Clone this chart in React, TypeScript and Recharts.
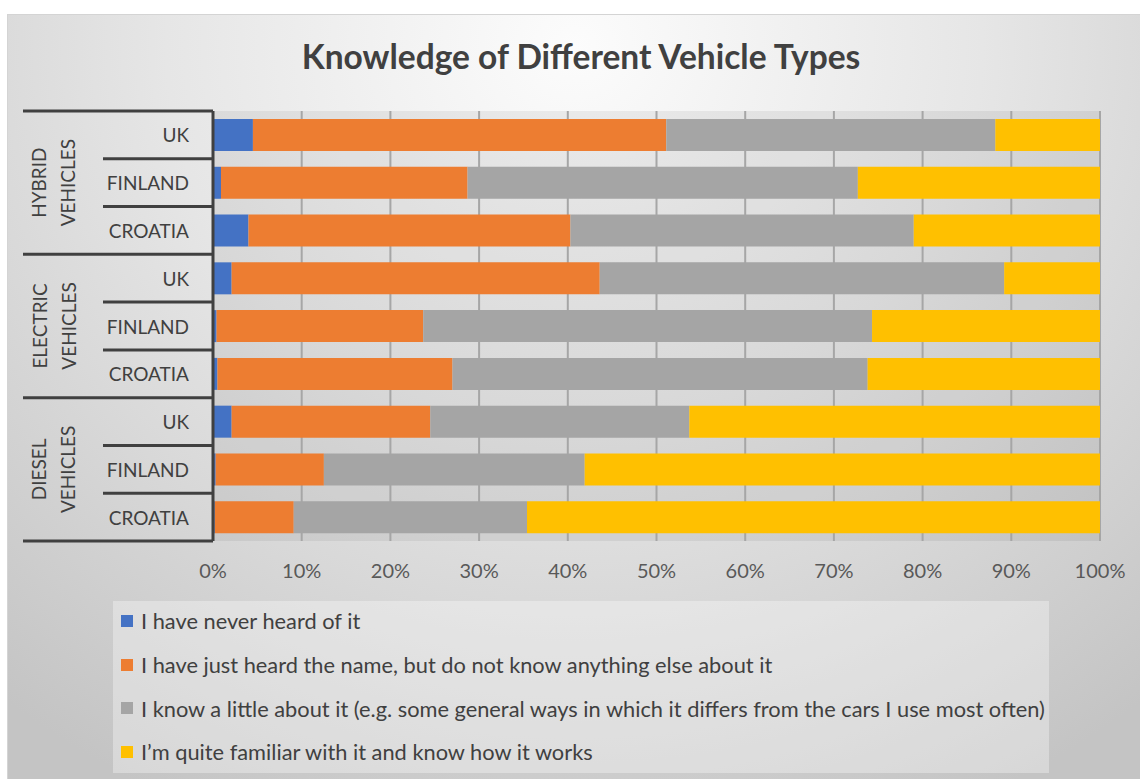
import { BarChart, Bar, XAxis, YAxis, CartesianGrid } from 'recharts';

// rows run top to bottom: each vehicle type holds UK, Finland, Croatia
const GROUPS = ['HYBRID VEHICLES', 'ELECTRIC VEHICLES', 'DIESEL VEHICLES'];
const COUNTRIES = ['UK', 'FINLAND', 'CROATIA'];

const neverHeard = [4.5, 0.9, 4.0, 2.1, 0.4, 0.5, 2.1, 0.3, 0.2];
const justName = [46.6, 27.8, 36.3, 41.5, 23.3, 26.5, 22.4, 12.2, 8.9];
const littleAbout = [37.1, 44.0, 38.7, 45.6, 50.6, 46.8, 29.2, 29.4, 26.3];
const familiar = [11.8, 27.3, 21.0, 10.8, 25.7, 26.2, 46.3, 58.1, 64.6];

const PCT_TICKS = [0, 10, 20, 30, 40, 50, 60, 70, 80, 90, 100];

const SERIES = [
  { key: 'never', name: 'I have never heard of it', color: '#4472C4', values: neverHeard },
  { key: 'name', name: 'I have just heard the name, but do not know anything else about it', color: '#ED7D31', values: justName },
  { key: 'little', name: 'I know a little about it (e.g. some general ways in which it differs from the cars I use most often)', color: '#A5A5A5', values: littleAbout },
  { key: 'familiar', name: 'I\u2019m quite familiar with it and know how it works', color: '#FFC000', values: familiar },
];

const rows = GROUPS.flatMap((group, g) =>
  COUNTRIES.map((country, c) => {
    const i = g * COUNTRIES.length + c;
    const row: { [k: string]: string | number } = { id: `${group}|${country}`, group, country };
    SERIES.forEach((s) => {
      row[s.key] = s.values[i];
    });
    return row;
  })
);

const FONT = 'Lato, "Open Sans", sans-serif';
const TEXT = '#404040';

const W = 1133;
const H = 765;
const MARGIN = { top: 96, right: 41, bottom: 199, left: 10 };
const X_AXIS_H = 40;
const Y_AXIS_W = 195;
const PLOT_LEFT = MARGIN.left + Y_AXIS_W;
const BAND = (H - MARGIN.top - MARGIN.bottom - X_AXIS_H) / rows.length;

const CategoryTick = (props: any) => {
  const { y, payload } = props;
  const i = payload.index ?? props.index ?? 0;
  const row = rows[i];
  const posInGroup = i % COUNTRIES.length;
  const isGroupEnd = posInGroup === COUNTRIES.length - 1;
  const bottom = y + BAND / 2;
  const words = String(row.group).split(' ');
  return (
    <g>
      <text
        x={PLOT_LEFT - 24}
        y={y}
        textAnchor="end"
        dominantBaseline="central"
        fill={TEXT}
        fontSize={19}
        fontFamily={FONT}
      >
        {row.country}
      </text>
      {i === 0 && (
        <line x1={15} x2={PLOT_LEFT} y1={y - BAND / 2} y2={y - BAND / 2} stroke={TEXT} strokeWidth={3} />
      )}
      <line x1={isGroupEnd ? 15 : 95} x2={PLOT_LEFT} y1={bottom} y2={bottom} stroke={TEXT} strokeWidth={3} />
      {posInGroup === 1 &&
        words.map((w, k) => (
          <text
            key={w}
            x={31 + k * 29}
            y={y}
            transform={`rotate(-90, ${31 + k * 29}, ${y})`}
            textAnchor="middle"
            dominantBaseline="central"
            fill={TEXT}
            fontSize={19}
            fontFamily={FONT}
          >
            {w}
          </text>
        ))}
    </g>
  );
};

const PctTick = (props: any) => {
  const { x, y, payload } = props;
  return (
    <text x={x} y={y + 29} textAnchor="middle" dominantBaseline="central" fill="#595959" fontSize={20} fontFamily={FONT}>
      {`${payload.value}%`}
    </text>
  );
};

const LegendBox = () => (
  <div
    style={{
      position: 'absolute',
      left: 105,
      top: 586,
      width: 936,
      height: 172,
      background: 'rgba(255,255,255,0.33)',
      boxSizing: 'border-box',
      padding: '0 0 0 8px',
    }}
  >
    <div style={{ marginTop: -2 }}>
      {SERIES.map((s) => (
        <div
          key={s.key}
          style={{ display: 'flex', alignItems: 'center', height: 43.7, fontFamily: FONT, fontSize: 21.8, color: TEXT }}
        >
          <span style={{ width: 12, height: 12, background: s.color, marginRight: 8, flex: 'none' }} />
          <span style={{ whiteSpace: 'nowrap' }}>{s.name}</span>
        </div>
      ))}
    </div>
  </div>
);

export default function App() {
  return (
    <div
      style={{
        position: 'absolute',
        left: 7,
        top: 14,
        width: W,
        height: H,
        overflow: 'hidden',
        borderTop: '1px solid #d4d4d4',
        borderLeft: '1px solid #d4d4d4',
        background: 'radial-gradient(ellipse 80% 110% at 50% 4%, #fcfcfc 0%, #e6e6e6 45%, #c4c4c4 100%)',
      }}
    >
      <div
        style={{
          position: 'absolute',
          top: 21,
          left: 0,
          width: 1146,
          textAlign: 'center',
          fontFamily: FONT,
          fontWeight: 700,
          fontSize: 33.5,
          color: TEXT,
        }}
      >
        Knowledge of Different Vehicle Types
      </div>
      <BarChart
        width={W}
        height={H}
        data={rows}
        layout="vertical"
        margin={MARGIN}
        barSize={32}
        style={{ position: 'absolute', left: 0, top: 0 }}
      >
        <CartesianGrid horizontal={false} stroke="#a6a6a6" strokeWidth={2} fill="rgba(0,0,0,0.06)" />
        <XAxis
          type="number"
          domain={[0, 100]}
          ticks={PCT_TICKS}
          axisLine={false}
          tickLine={false}
          tickSize={0}
          tickMargin={0}
          tick={<PctTick />}
          height={X_AXIS_H}
        />
        <YAxis
          type="category"
          dataKey="id"
          width={Y_AXIS_W}
          axisLine={{ stroke: TEXT, strokeWidth: 3 }}
          tickLine={false}
          interval={0}
          tick={<CategoryTick />}
        />
        {SERIES.map((s) => (
          <Bar key={s.key} dataKey={s.key} name={s.name} stackId="a" fill={s.color} isAnimationActive={false} />
        ))}
      </BarChart>
      <LegendBox />
    </div>
  );
}
